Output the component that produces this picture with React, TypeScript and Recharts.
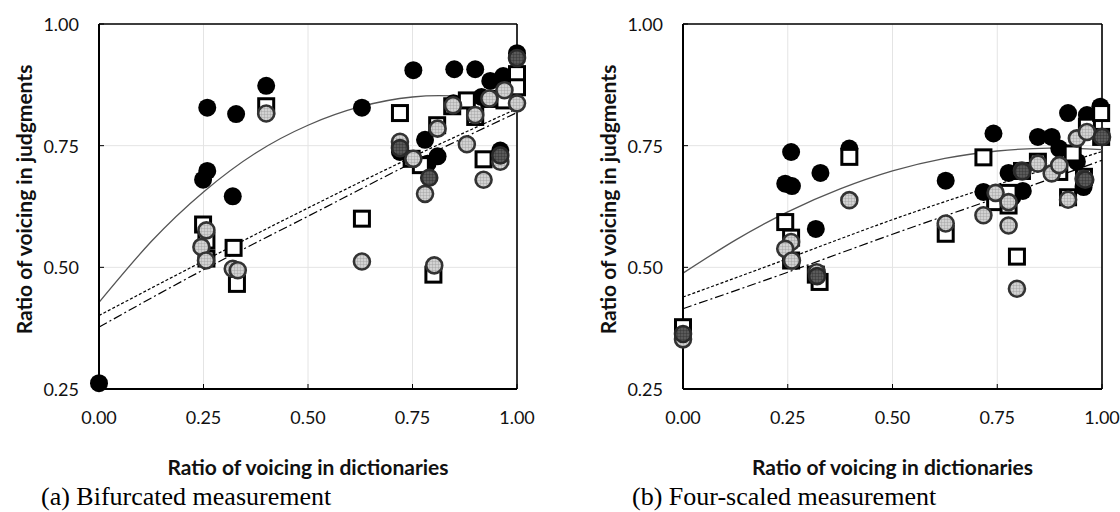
import React from "react";
import {
  ComposedChart,
  Scatter,
  Line,
  XAxis,
  YAxis,
  CartesianGrid,
  ReferenceLine,
} from "recharts";

type Pt = { x: number; y: number };

const xTicks = [0, 0.25, 0.5, 0.75, 1];
const yTicks = [0.25, 0.5, 0.75, 1];
const xTitle = "Ratio of voicing in dictionaries";
const yTitle = "Ratio of voicing in judgments";
const captionA = "(a) Bifurcated measurement";
const captionB = "(b) Four-scaled measurement";

// ---------- (a) Bifurcated ----------
const aBlack: Pt[] = [
  { x: 0.0, y: 0.262 }, { x: 0.259, y: 0.828 }, { x: 0.328, y: 0.815 }, { x: 0.4, y: 0.873 },
  { x: 0.249, y: 0.68 }, { x: 0.259, y: 0.698 }, { x: 0.32, y: 0.646 }, { x: 0.629, y: 0.828 },
  { x: 0.752, y: 0.905 }, { x: 0.85, y: 0.907 }, { x: 0.9, y: 0.907 }, { x: 0.936, y: 0.883 },
  { x: 0.967, y: 0.893 }, { x: 1.0, y: 0.94 }, { x: 0.72, y: 0.737 }, { x: 0.78, y: 0.762 },
  { x: 0.81, y: 0.728 }, { x: 0.786, y: 0.713 }, { x: 0.96, y: 0.74 }, { x: 0.915, y: 0.85 },
  { x: 0.848, y: 0.837 },
];
const aSquare: Pt[] = [
  { x: 0.249, y: 0.588 }, { x: 0.257, y: 0.555 }, { x: 0.257, y: 0.518 }, { x: 0.322, y: 0.54 },
  { x: 0.33, y: 0.466 }, { x: 0.4, y: 0.831 }, { x: 0.629, y: 0.6 }, { x: 0.72, y: 0.817 },
  { x: 0.748, y: 0.723 }, { x: 0.77, y: 0.71 }, { x: 0.8, y: 0.485 }, { x: 0.809, y: 0.792 },
  { x: 0.845, y: 0.831 }, { x: 0.88, y: 0.843 }, { x: 0.9, y: 0.809 }, { x: 0.92, y: 0.722 },
  { x: 0.934, y: 0.846 }, { x: 0.97, y: 0.843 }, { x: 1.0, y: 0.897 }, { x: 1.0, y: 0.87 },
];
const aGray: Pt[] = [
  { x: 0.257, y: 0.576 }, { x: 0.245, y: 0.542 }, { x: 0.256, y: 0.514 }, { x: 0.32, y: 0.497 },
  { x: 0.332, y: 0.494 }, { x: 0.4, y: 0.816 }, { x: 0.629, y: 0.512 }, { x: 0.802, y: 0.504 },
  { x: 0.72, y: 0.758 }, { x: 0.78, y: 0.651 }, { x: 0.88, y: 0.753 }, { x: 0.92, y: 0.68 },
  { x: 0.96, y: 0.717 }, { x: 1.0, y: 0.837 }, { x: 0.847, y: 0.833 }, { x: 0.9, y: 0.813 },
  { x: 0.81, y: 0.785 }, { x: 0.97, y: 0.864 }, { x: 0.934, y: 0.847 }, { x: 0.752, y: 0.723 },
];
const aDark: Pt[] = [
  { x: 0.79, y: 0.684 }, { x: 0.96, y: 0.73 }, { x: 1.0, y: 0.93 }, { x: 0.72, y: 0.745 },
];
const aSolid: Pt[] = [
  { x: 0, y: 0.428 }, { x: 0.125, y: 0.553 }, { x: 0.25, y: 0.655 }, { x: 0.375, y: 0.735 },
  { x: 0.5, y: 0.792 }, { x: 0.625, y: 0.83 }, { x: 0.75, y: 0.85 }, { x: 0.875, y: 0.85 },
  { x: 1, y: 0.83 },
];
const aDotted: Pt[] = [
  { x: 0, y: 0.401 }, { x: 0.25, y: 0.513 }, { x: 0.5, y: 0.622 }, { x: 0.75, y: 0.727 }, { x: 1, y: 0.826 },
];
const aDashDot: Pt[] = [
  { x: 0, y: 0.377 }, { x: 0.25, y: 0.495 }, { x: 0.5, y: 0.605 }, { x: 0.75, y: 0.715 }, { x: 1, y: 0.818 },
];

// ---------- (b) Four-scaled ----------
const bBlack: Pt[] = [
  { x: 0.258, y: 0.737 }, { x: 0.244, y: 0.672 }, { x: 0.26, y: 0.667 }, { x: 0.328, y: 0.694 },
  { x: 0.317, y: 0.579 }, { x: 0.397, y: 0.744 }, { x: 0.627, y: 0.678 }, { x: 0.741, y: 0.775 },
  { x: 0.717, y: 0.655 }, { x: 0.777, y: 0.694 }, { x: 0.786, y: 0.644 }, { x: 0.811, y: 0.657 },
  { x: 0.847, y: 0.768 }, { x: 0.88, y: 0.768 }, { x: 0.898, y: 0.744 }, { x: 0.919, y: 0.817 },
  { x: 0.94, y: 0.717 }, { x: 0.964, y: 0.813 }, { x: 0.956, y: 0.665 }, { x: 0.996, y: 0.83 },
];
const bSquare: Pt[] = [
  { x: 0, y: 0.377 }, { x: 0.244, y: 0.593 }, { x: 0.258, y: 0.561 }, { x: 0.258, y: 0.514 },
  { x: 0.317, y: 0.485 }, { x: 0.326, y: 0.47 }, { x: 0.397, y: 0.727 }, { x: 0.627, y: 0.569 },
  { x: 0.717, y: 0.726 }, { x: 0.745, y: 0.634 }, { x: 0.777, y: 0.653 }, { x: 0.777, y: 0.627 },
  { x: 0.797, y: 0.522 }, { x: 0.809, y: 0.698 }, { x: 0.847, y: 0.717 }, { x: 0.898, y: 0.696 },
  { x: 0.919, y: 0.644 }, { x: 0.957, y: 0.686 }, { x: 0.964, y: 0.789 }, { x: 0.998, y: 0.817 },
  { x: 0.998, y: 0.768 }, { x: 0.93, y: 0.734 },
];
const bGray: Pt[] = [
  { x: 0, y: 0.352 }, { x: 0.258, y: 0.552 }, { x: 0.244, y: 0.538 }, { x: 0.26, y: 0.514 },
  { x: 0.319, y: 0.49 }, { x: 0.397, y: 0.638 }, { x: 0.627, y: 0.59 }, { x: 0.717, y: 0.607 },
  { x: 0.746, y: 0.653 }, { x: 0.777, y: 0.586 }, { x: 0.797, y: 0.456 }, { x: 0.777, y: 0.634 },
  { x: 0.809, y: 0.699 }, { x: 0.847, y: 0.713 }, { x: 0.88, y: 0.693 }, { x: 0.898, y: 0.71 },
  { x: 0.919, y: 0.639 }, { x: 0.94, y: 0.765 }, { x: 0.964, y: 0.778 }, { x: 0.956, y: 0.682 },
];
const bDark: Pt[] = [
  { x: 0, y: 0.363 }, { x: 1.0, y: 0.768 }, { x: 0.96, y: 0.68 }, { x: 0.81, y: 0.697 },
  { x: 0.32, y: 0.482 },
];
const bSolid: Pt[] = [
  { x: 0, y: 0.488 }, { x: 0.125, y: 0.556 }, { x: 0.25, y: 0.614 }, { x: 0.375, y: 0.661 },
  { x: 0.5, y: 0.698 }, { x: 0.625, y: 0.724 }, { x: 0.75, y: 0.739 }, { x: 0.875, y: 0.745 },
  { x: 1, y: 0.742 },
];
const bDotted: Pt[] = [
  { x: 0, y: 0.439 }, { x: 0.25, y: 0.518 }, { x: 0.5, y: 0.598 }, { x: 0.75, y: 0.67 }, { x: 1, y: 0.738 },
];
const bDashDot: Pt[] = [
  { x: 0, y: 0.415 }, { x: 0.25, y: 0.49 }, { x: 0.5, y: 0.568 }, { x: 0.75, y: 0.643 }, { x: 1, y: 0.72 },
];

const FONT = "Lato, 'Open Sans', sans-serif";
const TICK_MARGIN_Y = 20;
const TICK_MARGIN_X = 22;

const YTick = (props: any) => {
  const { x, y, payload } = props;
  const ax = x + TICK_MARGIN_Y;
  return (
    <g>
      <line x1={ax} x2={ax + 5} y1={y} y2={y} stroke="#000" strokeWidth={1} />
      <text x={x} y={y} textAnchor="end" dominantBaseline="central" fontFamily={FONT} fontSize={18} fill="#111">
        {Number(payload.value).toFixed(2)}
      </text>
    </g>
  );
};

const XTick = (props: any) => {
  const { x, y, payload } = props;
  const ay = y - TICK_MARGIN_X;
  return (
    <g>
      <line x1={x} x2={x} y1={ay} y2={ay - 5} stroke="#000" strokeWidth={1} />
      <text x={x} y={y} dy="0.71em" textAnchor="middle" fontFamily={FONT} fontSize={18} fill="#111">
        {Number(payload.value).toFixed(2)}
      </text>
    </g>
  );
};

const YTitle = (props: any) => {
  const vb = props.viewBox || {};
  const cx = vb.x - 16;
  const cy = vb.y + vb.height / 2 - 7;
  return (
    <text
      x={cx}
      y={cy}
      transform={`rotate(-90 ${cx} ${cy})`}
      textAnchor="middle"
      dominantBaseline="central"
      fontFamily={FONT}
      fontWeight={700}
      fontSize={21}
      fill="#111"
    >
      {yTitle}
    </text>
  );
};

const XTitle = (props: any) => {
  const vb = props.viewBox || {};
  return (
    <text
      x={vb.x + vb.width / 2}
      y={vb.y + 77}
      textAnchor="middle"
      dominantBaseline="central"
      fontFamily={FONT}
      fontWeight={700}
      fontSize={21}
      fill="#111"
    >
      {xTitle}
    </text>
  );
};

const BlackDot = (p: any) => <circle cx={p.cx} cy={p.cy} r={9} fill="#000" />;
const GrayDot = (p: any) => (
  <circle cx={p.cx} cy={p.cy} r={8} fill="url(#hatchLight)" stroke="#333" strokeWidth={2.6} />
);
const DarkDot = (p: any) => (
  <circle cx={p.cx} cy={p.cy} r={8} fill="url(#hatchDark)" stroke="#2a2a2a" strokeWidth={2.6} />
);
const SquareMark = (p: any) => (
  <rect x={p.cx - 7.5} y={p.cy - 7.5} width={15} height={15} fill="#fff" stroke="#000" strokeWidth={3} />
);

type PanelProps = {
  left: number;
  marginLeft: number;
  marginRight: number;
  black: Pt[];
  square: Pt[];
  gray: Pt[];
  dark: Pt[];
  solid: Pt[];
  dotted: Pt[];
  dashDot: Pt[];
};

const Panel = (pp: PanelProps) => (
  <div style={{ position: "absolute", left: pp.left, top: 0 }}>
    <ComposedChart
      width={560}
      height={512}
      margin={{ top: 24, right: pp.marginRight, bottom: 83, left: pp.marginLeft }}
    >
      <CartesianGrid stroke="#e4e4e4" strokeWidth={1} />
      <XAxis
        type="number"
        dataKey="x"
        domain={[0, 1]}
        ticks={xTicks}
        height={40}
        tickSize={0}
        tickMargin={TICK_MARGIN_X}
        tick={<XTick />}
        axisLine={{ stroke: "#000", strokeWidth: 2 }}
        tickLine={false}
        allowDuplicatedCategory={false}
        label={<XTitle />}
      />
      <YAxis
        type="number"
        dataKey="y"
        domain={[0.25, 1]}
        ticks={yTicks}
        width={60}
        tickSize={0}
        tickMargin={TICK_MARGIN_Y}
        tick={<YTick />}
        axisLine={{ stroke: "#000", strokeWidth: 2 }}
        tickLine={false}
        label={<YTitle />}
      />
      <ReferenceLine y={1} stroke="#000" strokeWidth={1.6} />
      <ReferenceLine x={1} stroke="#000" strokeWidth={1.6} />
      <Scatter data={pp.black} dataKey="y" shape={BlackDot} isAnimationActive={false} />
      <Scatter data={pp.square} dataKey="y" shape={SquareMark} isAnimationActive={false} />
      <Scatter data={pp.gray} dataKey="y" shape={GrayDot} isAnimationActive={false} />
      <Scatter data={pp.dark} dataKey="y" shape={DarkDot} isAnimationActive={false} />
      <Line
        data={pp.solid}
        dataKey="y"
        type="natural"
        stroke="#555"
        strokeWidth={1.3}
        dot={false}
        activeDot={false}
        isAnimationActive={false}
      />
      <Line
        data={pp.dotted}
        dataKey="y"
        type="natural"
        stroke="#000"
        strokeWidth={1.2}
        strokeDasharray="3 2"
        dot={false}
        activeDot={false}
        isAnimationActive={false}
      />
      <Line
        data={pp.dashDot}
        dataKey="y"
        type="natural"
        stroke="#000"
        strokeWidth={1.2}
        strokeDasharray="9 3 2 3"
        dot={false}
        activeDot={false}
        isAnimationActive={false}
      />
    </ComposedChart>
  </div>
);

const captionStyle: React.CSSProperties = {
  position: "absolute",
  top: 482,
  fontFamily: "'Liberation Serif', 'DejaVu Serif', serif",
  fontSize: 26,
  lineHeight: "30px",
  color: "#000",
  whiteSpace: "nowrap",
};

export default function App() {
  return (
    <div style={{ position: "absolute", left: 0, top: 0, width: 1120, height: 512, background: "#fff", overflow: "hidden" }}>
      <svg width={0} height={0} style={{ position: "absolute" }}>
        <defs>
          <pattern id="hatchLight" width={3} height={3} patternUnits="userSpaceOnUse">
            <rect width={3} height={3} fill="#d2d2d2" />
            <path d="M0 0H3M0 0V3" stroke="#9a9a9a" strokeWidth={0.8} />
          </pattern>
          <pattern id="hatchDark" width={3} height={3} patternUnits="userSpaceOnUse">
            <rect width={3} height={3} fill="#5a5a5a" />
            <path d="M0 0H3M0 0V3" stroke="#2e2e2e" strokeWidth={0.8} />
          </pattern>
        </defs>
      </svg>
      <Panel
        left={0}
        marginLeft={39}
        marginRight={43}
        black={aBlack}
        square={aSquare}
        gray={aGray}
        dark={aDark}
        solid={aSolid}
        dotted={aDotted}
        dashDot={aDashDot}
      />
      <Panel
        left={560}
        marginLeft={63}
        marginRight={18}
        black={bBlack}
        square={bSquare}
        gray={bGray}
        dark={bDark}
        solid={bSolid}
        dotted={bDotted}
        dashDot={bDashDot}
      />
      <div style={{ ...captionStyle, left: 41 }}>{captionA}</div>
      <div style={{ ...captionStyle, left: 632 }}>{captionB}</div>
    </div>
  );
}
